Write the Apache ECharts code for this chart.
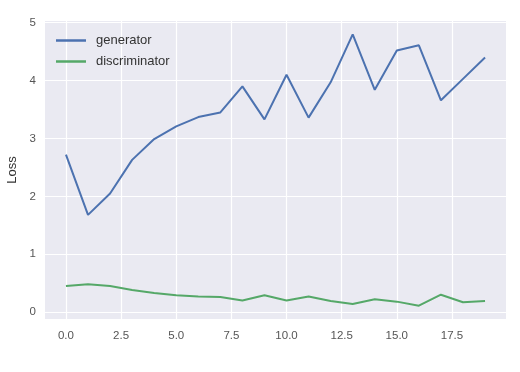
<!DOCTYPE html>
<html><head><meta charset="utf-8">
<script src="https://cdn.jsdelivr.net/npm/echarts@6/dist/echarts.min.js"></script>
<style>html,body{margin:0;padding:0;background:#fff}#c{width:520px;height:372px}</style>
</head><body><div id="c"></div>
<script>
const epochs = [0,1,2,3,4,5,6,7,8,9,10,11,12,13,14,15,16,17,18,19];
const generator = [2.72,1.68,2.05,2.63,2.99,3.21,3.37,3.45,3.90,3.33,4.10,3.36,3.97,4.80,3.84,4.52,4.61,3.66,4.03,4.40];
const discriminator = [0.45,0.48,0.45,0.38,0.33,0.29,0.27,0.26,0.20,0.29,0.20,0.27,0.19,0.14,0.22,0.18,0.11,0.30,0.17,0.19];
const xTicks = [0,2.5,5,7.5,10,12.5,15,17.5];
const yTicks = [0,1,2,3,4,5];

const chart = echarts.init(document.getElementById('c'), null, {renderer:'canvas'});
const font = 'Liberation Sans, Arial, sans-serif';
chart.setOption({
  backgroundColor:'#fff',
  animation:false,
  grid:{left:45,right:14,top:21,bottom:53,backgroundColor:'#EAEAF2',show:true,borderWidth:0,containLabel:false,outerBoundsMode:'none'},
  legend:{
    orient:'vertical',left:51,top:29,itemGap:8,itemWidth:30,itemHeight:2.5,icon:'rect',
    textStyle:{fontFamily:font,fontSize:13,color:'#333',padding:[0,0,0,5]},
    data:['generator','discriminator']
  },
  xAxis:{
    type:'value',min:-0.95,max:19.95,
    axisLine:{show:false},
    axisTick:{show:false,customValues:xTicks},
    axisLabel:{customValues:xTicks,formatter:v=>v.toFixed(1),color:'#555',fontFamily:font,fontSize:11.5,margin:11},
    splitLine:{show:true,lineStyle:{color:'#fff',width:1.2}}
  },
  yAxis:{
    type:'value',min:-0.12,max:5.03,
    name:'Loss',nameLocation:'middle',nameGap:26,
    nameTextStyle:{fontFamily:font,fontSize:13,color:'#333'},
    axisLine:{show:false},
    axisTick:{show:false,customValues:yTicks},
    axisLabel:{customValues:yTicks,formatter:v=>String(v),color:'#555',fontFamily:font,fontSize:11.5,margin:9},
    splitLine:{show:true,lineStyle:{color:'#fff',width:1.2}}
  },
  series:[
    {name:'generator',type:'line',data:epochs.map((e,i)=>[e,generator[i]]),showSymbol:false,symbol:'none',
     lineStyle:{color:'#4C72B0',width:2},itemStyle:{color:'#4C72B0'}},
    {name:'discriminator',type:'line',data:epochs.map((e,i)=>[e,discriminator[i]]),showSymbol:false,symbol:'none',
     lineStyle:{color:'#55A868',width:2},itemStyle:{color:'#55A868'}}
  ]
});
</script></body></html>
